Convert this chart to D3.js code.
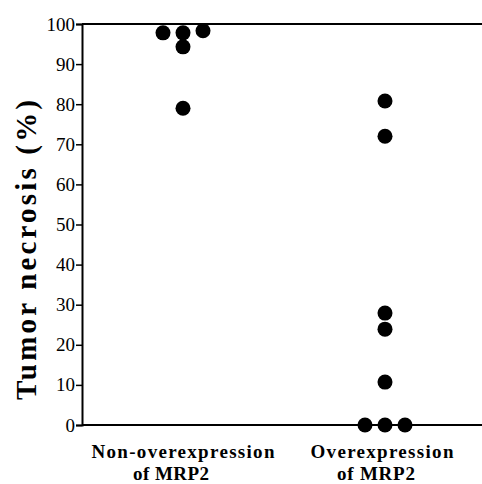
<!DOCTYPE html>
<html>
<head>
<meta charset="utf-8">
<script src="https://cdn.jsdelivr.net/npm/d3@7"></script>
<style>
  body { margin: 0; background: #fff; }
</style>
</head>
<body>
<svg id="chart" width="482" height="484"></svg>
<script>
// groups and per-group necrosis values (%)
var groups = ["Non-overexpression of MRP2", "Overexpression of MRP2"];
var groupLines = [["Non-overexpression", "of MRP2"], ["Overexpression", "of MRP2"]];
var nonOverValues = [97.8, 97.8, 98.3, 94.3, 79];
var nonOverOffsets = [-1, 0, 1, 0, 0];
var overValues = [80.8, 72, 27.9, 23.9, 10.7, 0, 0, 0];
var overOffsets = [0, 0, 0, 0, 0, -1, 0, 1];
var yTicks = [0, 10, 20, 30, 40, 50, 60, 70, 80, 90, 100];

var FONT = "'Liberation Serif', 'Times New Roman', serif";
var svg = d3.select("#chart").style("font-family", FONT);
// note: "top" is reserved on window, so use plot* names
var plotLeft = 82, plotTop = 24, plotBottom = 425, plotRight = 482;

var y = d3.scaleLinear().domain([0, 100]).range([plotBottom, plotTop]);
var x = d3.scalePoint().domain(groups).range([183, 385]);

// y axis
var yAxis = d3.axisLeft(y).tickValues(yTicks).tickSize(6).tickPadding(1);
var gy = svg.append("g").attr("transform", "translate(" + plotLeft + ",0)").call(yAxis);
gy.attr("font-family", null);
gy.select(".domain").attr("stroke", "#000").attr("stroke-width", 2);
gy.selectAll(".tick line").attr("stroke", "#000").attr("stroke-width", 1.5);
gy.selectAll(".tick text")
  .style("font-family", FONT)
  .attr("font-size", 19)
  .attr("fill", "#000");

// top and bottom frame lines
svg.append("line").attr("x1", plotLeft).attr("x2", plotRight)
  .attr("y1", y(100)).attr("y2", y(100))
  .attr("stroke", "#000").attr("stroke-width", 2);
svg.append("line").attr("x1", plotLeft).attr("x2", plotRight)
  .attr("y1", y(0)).attr("y2", y(0))
  .attr("stroke", "#000").attr("stroke-width", 2);

// dots
var dotStep = 20;
function drawGroup(name, values, offsets) {
  svg.append("g").selectAll("circle")
    .data(values)
    .enter().append("circle")
    .attr("cx", function(d, i) { return x(name) + offsets[i] * dotStep; })
    .attr("cy", function(d) { return y(d); })
    .attr("r", 7.5)
    .attr("fill", "#000");
}
drawGroup(groups[0], nonOverValues, nonOverOffsets);
drawGroup(groups[1], overValues, overOffsets);

// category labels (wide, letter-spaced bold serif like the scan)
var lineWidths = [[183, 76], [143, 78]];
var lineShift = [[0, -12], [-3, -9]];
groups.forEach(function(g, i) {
  groupLines[i].forEach(function(line, k) {
    svg.append("text")
      .attr("x", x(g) + lineShift[i][k])
      .attr("y", 458 + k * 22)
      .attr("text-anchor", "middle")
      .attr("font-size", 19)
      .attr("font-weight", "bold")
      .attr("textLength", lineWidths[i][k])
      .attr("lengthAdjust", "spacing")
      .text(line);
  });
});

// y axis title
svg.append("text")
  .attr("transform", "translate(36," + 250 + ") rotate(-90)")
  .attr("text-anchor", "middle")
  .attr("font-size", 29)
  .attr("font-weight", "bold")
  .attr("textLength", 300)
  .attr("lengthAdjust", "spacing")
  .text("Tumor necrosis (%)");
</script>
</body>
</html>
